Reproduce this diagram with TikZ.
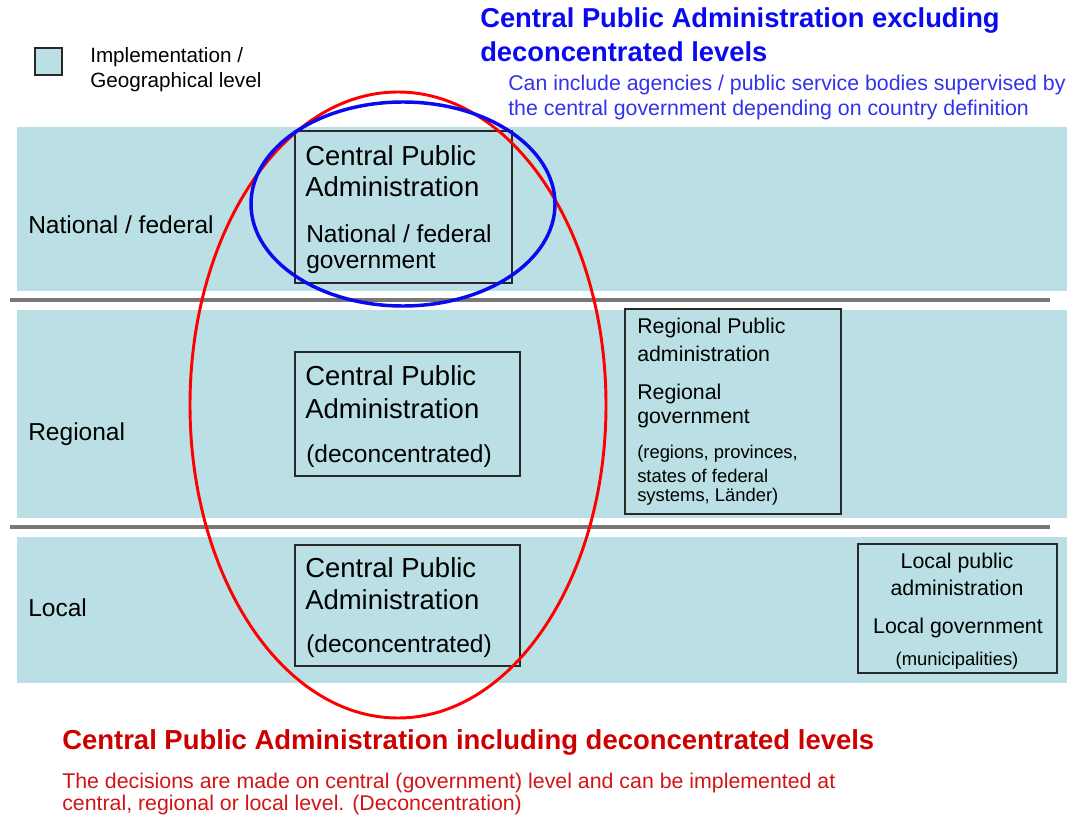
\documentclass[tikz,border=0pt]{standalone}
\usepackage{fontspec}
\setmainfont{Liberation Sans}
\definecolor{bandc}{RGB}{186,224,229}
\definecolor{sepc}{RGB}{120,120,120}
\definecolor{boxc}{RGB}{40,40,40}
\definecolor{tblue}{RGB}{10,10,240}
\definecolor{sblue}{RGB}{50,50,235}
\definecolor{tred}{RGB}{205,0,0}
\definecolor{sred}{RGB}{210,20,20}
\begin{document}
\begin{tikzpicture}[x=0.75pt,y=-0.75pt,
  band/.style={fill=bandc, draw=none},
  sepline/.style={draw=sepc, line width=3pt},
  cbox/.style={draw=boxc, line width=1.2pt},
  txt/.style={anchor=west, inner sep=0pt, text=black},
  big/.style={txt, font=\fontsize{20.6pt}{24pt}\selectfont},
  med/.style={txt, font=\fontsize{18.4pt}{22pt}\selectfont},
  norm/.style={txt, font=\fontsize{16pt}{19pt}\selectfont},
  small/.style={txt, font=\fontsize{13.8pt}{16pt}\selectfont},
  leg/.style={txt, font=\fontsize{15.5pt}{18pt}\selectfont},
  btitle/.style={txt, text=tblue, font=\bfseries\fontsize{20.5pt}{24pt}\selectfont},
  bsub/.style={txt, text=sblue, font=\fontsize{16pt}{19pt}\selectfont},
  rtitle/.style={txt, text=tred, font=\bfseries\fontsize{20.6pt}{24pt}\selectfont},
  rsub/.style={txt, text=sred, font=\fontsize{16pt}{19pt}\selectfont}
]
\useasboundingbox (0,0) rectangle (1070,820);

% bands
\fill[band] (17,127) rectangle (1067,291);
\fill[band] (17,310) rectangle (1067,518);
\fill[band] (17,537) rectangle (1067,683);
\draw[sepline] (10,300) -- (1050,300);
\draw[sepline] (10,527) -- (1050,527);

% legend
\node[draw=boxc, line width=1.2pt, fill=bandc, minimum width=20pt, minimum height=20pt, inner sep=0pt] (legbox) at (48.5,61.5) {};
\node[leg] (leg1) at (90,57) {Implementation /};
\node[leg] (leg2) at (90,82) {Geographical level};

% level labels
\node[med] (lnat) at (28,225) {National / federal};
\node[med] (lreg) at (28,434) {Regional};
\node[med] (lloc) at (28,608) {Local};

% central boxes
\draw[cbox] (295,131) rectangle (512,283);
\node[big] (b1a) at (305,156) {Central Public};
\node[big] (b1b) at (305,187) {Administration};
\node[med] (b1c) at (306,234) {National / federal};
\node[med] (b1d) at (306,263) {government};

\draw[cbox] (295,352) rectangle (520,476);
\node[big] (b2a) at (305,376) {Central Public};
\node[big] (b2b) at (305,409) {Administration};
\node[med] (b2c) at (306,456) {(deconcentrated)};

\draw[cbox] (295,545) rectangle (520,666);
\node[big] (b3a) at (305,568) {Central Public};
\node[big] (b3b) at (305,600) {Administration};
\node[med] (b3c) at (306,646) {(deconcentrated)};

% regional box
\draw[cbox] (625,309) rectangle (841,514);
\node[norm] (r1) at (637,328) {Regional Public};
\node[norm] (r2) at (637,354) {administration};
\node[norm] (r3) at (637,394) {Regional};
\node[norm] (r4) at (637,419) {government};
\node[small] (r5) at (637,454) {(regions, provinces,};
\node[small] (r6) at (637,476) {states of federal};
\node[small] (r7) at (637,497) {systems, Länder)};

% local box
\draw[cbox] (858,544) rectangle (1057,673);
\node[norm, anchor=center] (l1) at (957,563) {Local public};
\node[norm, anchor=center] (l2) at (957,588) {administration};
\node[norm, anchor=center] (l3) at (958,628) {Local government};
\node[small, anchor=center] (l4) at (957,661) {(municipalities)};

% ellipses
\draw[red, line width=2.2pt] (398,405) ellipse [x radius=208, y radius=313];
\draw[tblue, line width=2.6pt] (403,204) ellipse [x radius=152, y radius=102];

% titles
\node[btitle] (bt1) at (480,20) {Central Public Administration excluding};
\node[btitle] (bt2) at (480,52) {deconcentrated levels};
\node[bsub] (bs1) at (508,85) {Can include agencies / public service bodies supervised by};
\node[bsub] (bs2) at (508,110) {the central government depending on country definition};

\node[rtitle] (rt1) at (62,742) {Central Public Administration including deconcentrated levels};
\node[rsub] (rs1) at (62,783) {The decisions are made on central (government) level and can be implemented at};
\node[rsub] (rs2) at (62,805) {central, regional or local level. (Deconcentration)};
\end{tikzpicture}
\end{document}
